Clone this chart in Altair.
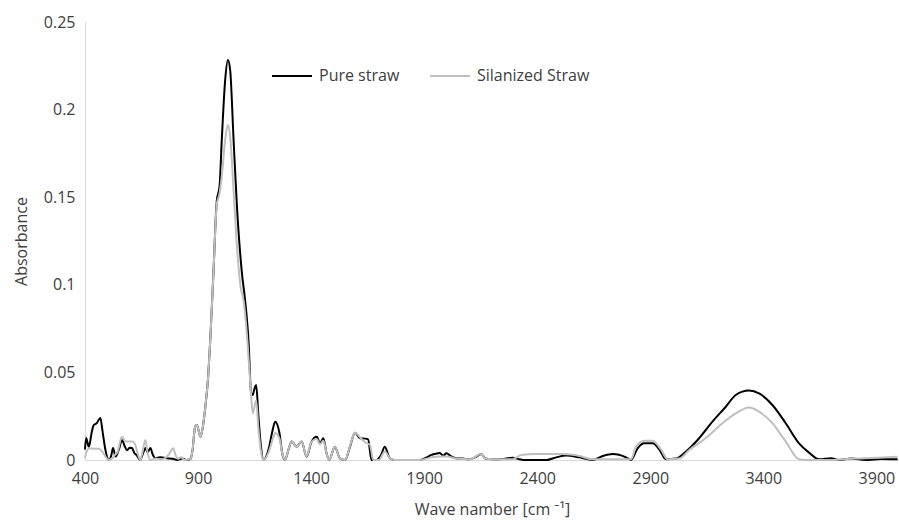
import altair as alt
import pandas as pd

# Pure straw spectrum (wave number, absorbance)
wn_pure = [400, 405, 417, 430, 439, 452, 461, 468, 478, 490, 505, 515, 524, 535, 550, 564, 575, 586, 597, 608,
           618, 627, 645, 657, 667, 677, 689, 700, 711, 733, 760, 790, 807, 830, 850, 866, 875, 887, 895, 910,
           920, 932, 945, 954, 968, 983, 995, 1005, 1020, 1032, 1042, 1057, 1072, 1094, 1108, 1123, 1135, 1142, 1148, 1157,
           1167, 1178, 1189, 1211, 1228, 1241, 1260, 1272, 1285, 1300, 1314, 1336, 1358, 1380, 1402, 1425, 1439, 1454, 1468, 1480,
           1505, 1527, 1550, 1572, 1594, 1616, 1640, 1652, 1667, 1689, 1710, 1726, 1748, 1770, 1820, 1880, 1910, 1932, 1950, 1969,
           1985, 1998, 2020, 2042, 2070, 2101, 2125, 2153, 2170, 2200, 2250, 2290, 2322, 2337, 2441, 2484, 2528, 2587, 2644, 2690,
           2734, 2793, 2815, 2844, 2874, 2910, 2940, 2969, 3013, 3058, 3116, 3175, 3234, 3278, 3337, 3381, 3440, 3499, 3558, 3602,
           3646, 3700, 3734, 3790, 3852, 3920, 3994]
abs_pure = [0.006, 0.0125, 0.0075, 0.016, 0.020, 0.021, 0.023, 0.024, 0.016, 0.006, 0.0, 0.002, 0.0068, 0.002, 0.006, 0.0114, 0.008, 0.0055, 0.007, 0.0068,
            0.004, 0.003, 0.0, 0.004, 0.0068, 0.0045, 0.0068, 0.003, 0.001, 0.0015, 0.001, 0.0007, 0.0, 0.0008, 0.0, 0.0005, 0.005, 0.019, 0.020, 0.0133,
            0.018, 0.030, 0.048, 0.0685, 0.1067, 0.148, 0.156, 0.183, 0.217, 0.2283, 0.2226, 0.183, 0.1446, 0.1067, 0.0913, 0.0685, 0.038, 0.0371, 0.040, 0.0428,
            0.025, 0.008, 0.0, 0.0057, 0.016, 0.0219, 0.0154, 0.004, 0.0, 0.006, 0.0105, 0.0076, 0.0105, 0.0019, 0.0105, 0.0133, 0.0095, 0.0124, 0.004, 0.0,
            0.0076, 0.001, 0.0, 0.0076, 0.0156, 0.0124, 0.0122, 0.0118, 0.0, 0.0, 0.003, 0.0076, 0.001, 0.0, 0.0, 0.0, 0.0015, 0.0029, 0.0035, 0.004,
            0.0025, 0.0038, 0.002, 0.001, 0.0008, 0.0004, 0.0015, 0.0034, 0.0008, 0.0004, 0.0006, 0.0013, 0.0004, 0.0, 0.0, 0.0015, 0.0025, 0.0015, 0.0, 0.0023,
            0.0034, 0.0015, 0.0, 0.0067, 0.0095, 0.0095, 0.006, 0.0004, 0.0008, 0.0048, 0.0124, 0.0219, 0.0304, 0.0371, 0.0396, 0.038, 0.0314, 0.021, 0.0095, 0.0042,
            0.0004, 0.001, 0.0, 0.0008, 0.0, 0.0006, 0.0004]

# Silanized straw spectrum (wave number, absorbance)
wn_sil = [400, 405, 420, 440, 461, 478, 490, 505, 520, 530, 545, 563, 575, 586, 597, 608, 620, 632, 645, 655,
          667, 677, 689, 711, 740, 770, 790, 800, 810, 825, 840, 866, 875, 887, 895, 910, 920, 932, 945, 954,
          968, 983, 995, 1005, 1020, 1032, 1042, 1057, 1072, 1088, 1103, 1118, 1133, 1142, 1157, 1167, 1178, 1189, 1211, 1228,
          1241, 1260, 1272, 1285, 1300, 1314, 1336, 1358, 1380, 1402, 1425, 1439, 1454, 1468, 1480, 1505, 1527, 1550, 1572, 1594,
          1616, 1640, 1660, 1675, 1700, 1726, 1748, 1770, 1880, 1932, 1969, 1998, 2042, 2101, 2153, 2170, 2200, 2290, 2329, 2396,
          2513, 2587, 2644, 2719, 2793, 2815, 2837, 2874, 2910, 2947, 2977, 3028, 3072, 3145, 3219, 3278, 3337, 3381, 3440, 3499,
          3558, 3587, 3705, 3800, 3852, 3994]
abs_sil = [0.001, 0.004, 0.0067, 0.0064, 0.0064, 0.0045, 0.002, 0.0, 0.001, 0.0025, 0.005, 0.0133, 0.011, 0.0105, 0.0105, 0.0105, 0.0095, 0.004, 0.0, 0.005,
           0.0114, 0.004, 0.0, 0.0008, 0.0004, 0.003, 0.0067, 0.003, 0.0007, 0.0015, 0.0, 0.0005, 0.005, 0.019, 0.020, 0.0133, 0.018, 0.030, 0.048, 0.0685,
           0.1067, 0.146, 0.152, 0.162, 0.183, 0.1912, 0.1846, 0.154, 0.1218, 0.099, 0.0896, 0.0685, 0.040, 0.0266, 0.034, 0.018, 0.005, 0.0, 0.004, 0.011,
           0.0154, 0.0124, 0.004, 0.0, 0.006, 0.0105, 0.0076, 0.0105, 0.002, 0.0105, 0.012, 0.009, 0.011, 0.004, 0.0, 0.0076, 0.001, 0.0, 0.008, 0.0156,
           0.013, 0.010, 0.0086, 0.0, 0.0, 0.0048, 0.001, 0.0, 0.0, 0.0015, 0.002, 0.002, 0.0008, 0.0004, 0.0034, 0.0008, 0.0004, 0.0004, 0.0029, 0.0034,
           0.0034, 0.0023, 0.0004, 0.0004, 0.0004, 0.0004, 0.0076, 0.011, 0.011, 0.006, 0.0004, 0.0008, 0.0057, 0.0124, 0.021, 0.0266, 0.0299, 0.0276, 0.021, 0.0105,
           0.0004, 0.0, 0.0, 0.0008, 0.001, 0.0019]

series_names = ["Pure straw", "Silanized Straw"]
series_colors = ["#000000", "#bfbfbf"]
x_ticks = [400, 900, 1400, 1900, 2400, 2900, 3400, 3900]
y_ticks = [0, 0.05, 0.1, 0.15, 0.2, 0.25]

df = pd.concat([
    pd.DataFrame({"wn": wn_pure, "absorbance": abs_pure, "series": series_names[0], "ord": 0}),
    pd.DataFrame({"wn": wn_sil, "absorbance": abs_sil, "series": series_names[1], "ord": 1}),
])

FONT = "Open Sans"
TXT = "#404040"
axis_style = dict(grid=False, ticks=False, domainColor="#d9d9d9", domainWidth=1,
                  labelFont=FONT, titleFont=FONT, labelFontSize=16, titleFontSize=16,
                  labelColor=TXT, titleColor=TXT, titleFontWeight="normal")

chart = alt.Chart(df).mark_line(interpolate="monotone", strokeWidth=2).encode(
    x=alt.X("wn:Q",
            scale=alt.Scale(domain=[400, 4000], nice=False, zero=False),
            axis=alt.Axis(values=x_ticks, format="d", title="Wave namber [cm ⁻¹]",
                          labelPadding=10, titlePadding=15, labelFlush=False, **axis_style)),
    y=alt.Y("absorbance:Q",
            scale=alt.Scale(domain=[0, 0.25], nice=False),
            axis=alt.Axis(values=y_ticks, format="~g", title="Absorbance",
                          labelPadding=10, titlePadding=14, **axis_style)),
    color=alt.Color("series:N",
                    scale=alt.Scale(domain=series_names, range=series_colors),
                    legend=alt.Legend(title=None, orient="none", legendX=186, legendY=33,
                                      direction="horizontal", symbolType="stroke",
                                      symbolSize=1600, symbolStrokeWidth=2,
                                      labelFontSize=16, labelFont=FONT, labelColor=TXT,
                                      labelOffset=6, columnPadding=26)),
    order="ord:Q",
).properties(
    width=814, height=438,
    padding={"left": 85, "top": 22, "right": 0, "bottom": 61},
    autosize=alt.AutoSizeParams(type="none"),
    background="white",
).configure_view(stroke=None)

chart.save("out.html", embed_options={"renderer": "svg", "actions": False})
